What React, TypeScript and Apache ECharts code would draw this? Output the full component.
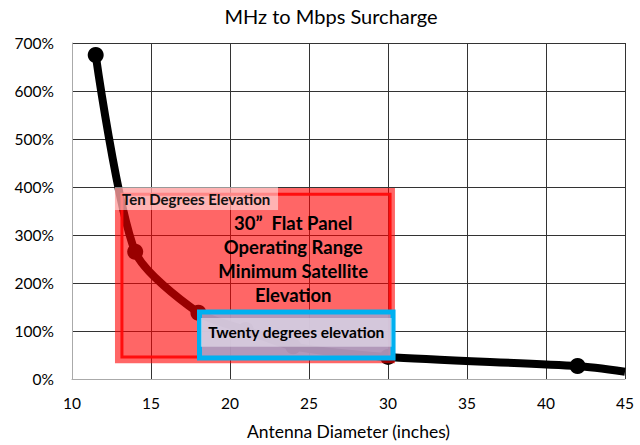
import React, { useEffect, useRef } from "react";
import * as echarts from "echarts";

// antenna diameter (inches) vs surcharge (%)
const diameters = [11.5, 14, 18, 21, 24, 30, 42, 45];
const surcharge = [675, 265, 138, 102, 68, 46, 27, 15];
const markers = [true, true, true, true, true, true, true, false];

const xMin = 10;
const xMax = 45;
const xStep = 5;
const yMax = 700;
const yStep = 100;

const titleText = "MHz to Mbps Surcharge";
const xName = "Antenna Diameter (inches)";
const tenLabel = "Ten Degrees Elevation";
const rangeLabel = "30\u201D  Flat Panel\nOperating Range\nMinimum Satellite\nElevation";
const twentyLabel = "Twenty degrees elevation";

// annotation boxes in data units: [x0, y0, x1, y1]
const redBox = [12.72, 398, 30.44, 33];
const redFrame = [13.16, 385, 30.13, 46];
const tenBox = [12.72, 400, 23.04, 352];
const rangeBox = [18.5, 360, 29.5, 140];
const blueBox = [18.07, 139.6, 30.32, 43.75];
const twentyBox = [18.16, 127, 30.23, 67];

const FONT = "Lato, 'Open Sans', sans-serif";

const area = (b: number[], itemStyle: any, label?: any) => [
  { xAxis: b[0], yAxis: b[1], itemStyle, label: label ?? { show: false } },
  { xAxis: b[2], yAxis: b[3] },
];

const App: React.FC = () => {
  const chartRef = useRef<HTMLDivElement>(null);

  useEffect(() => {
    document.body.style.margin = "0";
    const chart = echarts.init(chartRef.current as HTMLDivElement, undefined, { renderer: "svg" });

    const option: echarts.EChartsOption = {
      animation: false,
      title: {
        text: titleText,
        left: 326,
        top: 1,
        textAlign: "center",
        textStyle: { fontFamily: FONT, fontSize: 20, fontWeight: "normal", color: "#000" },
      },
      grid: { left: 72, right: 15, top: 43, bottom: 66 },
      xAxis: {
        type: "value",
        min: xMin,
        max: xMax,
        interval: xStep,
        name: xName,
        nameLocation: "middle",
        nameGap: 43,
        nameTextStyle: { fontFamily: FONT, fontSize: 17.5, color: "#000" },
        axisLine: { lineStyle: { color: "#aaa", width: 1 } },
        axisTick: { show: false },
        axisLabel: { fontFamily: FONT, fontSize: 15.5, color: "#000", margin: 16 },
        splitLine: { show: true, lineStyle: { color: "#333", width: 1 } },
      },
      yAxis: {
        type: "value",
        min: 0,
        max: yMax,
        interval: yStep,
        axisLine: { show: true, lineStyle: { color: "#aaa", width: 1 } },
        axisTick: { show: false },
        axisLabel: { fontFamily: FONT, fontSize: 15.5, color: "#000", margin: 18, formatter: "{value}%" },
        splitLine: { show: true, lineStyle: { color: "#333", width: 1 } },
      },
      series: [
        {
          type: "line",
          z: 2,
          smooth: 0.25,
          data: diameters.map((d, i) => ({
            value: [d, surcharge[i]],
            symbol: markers[i] ? "circle" : "none",
          })),
          symbolSize: 16,
          itemStyle: { color: "#000" },
          lineStyle: { color: "#000", width: 8 },
        },
        {
          type: "line",
          data: [],
          markArea: {
            silent: true,
            z: 10,
            data: [
              area(redBox, { color: "rgba(255,0,0,0.6)" }),
              area(redFrame, { color: "rgba(0,0,0,0)", borderColor: "rgba(255,10,10,0.95)", borderWidth: 3 }),
              area(tenBox, { color: "rgba(255,255,255,0.5)" }, {
                show: true,
                position: "insideLeft",
                distance: 7,
                formatter: tenLabel,
                fontFamily: FONT,
                fontSize: 15,
                fontWeight: "bold",
                color: "#111",
              }),
              area(rangeBox, { color: "rgba(0,0,0,0)" }, {
                show: true,
                position: "inside",
                formatter: rangeLabel,
                fontFamily: FONT,
                fontSize: 18.5,
                fontWeight: "bold",
                lineHeight: 24,
                align: "center",
                color: "#000",
              }),
            ] as any,
          },
        },
        {
          type: "line",
          data: [],
          markArea: {
            silent: true,
            z: 11,
            data: [
              area(blueBox, { color: "rgba(170,158,195,0.9)", borderColor: "#00b0f0", borderWidth: 5 }),
              area(twentyBox, { color: "rgba(235,230,242,0.6)" }, {
                show: true,
                position: "inside",
                formatter: twentyLabel,
                fontFamily: FONT,
                fontSize: 15.5,
                fontWeight: "bold",
                color: "#000",
              }),
            ] as any,
          },
        },
      ],
    };

    chart.setOption(option);
    return () => {
      chart.dispose();
    };
  }, []);

  return <div ref={chartRef} style={{ width: "640px", height: "445px" }} />;
};

export default App;
